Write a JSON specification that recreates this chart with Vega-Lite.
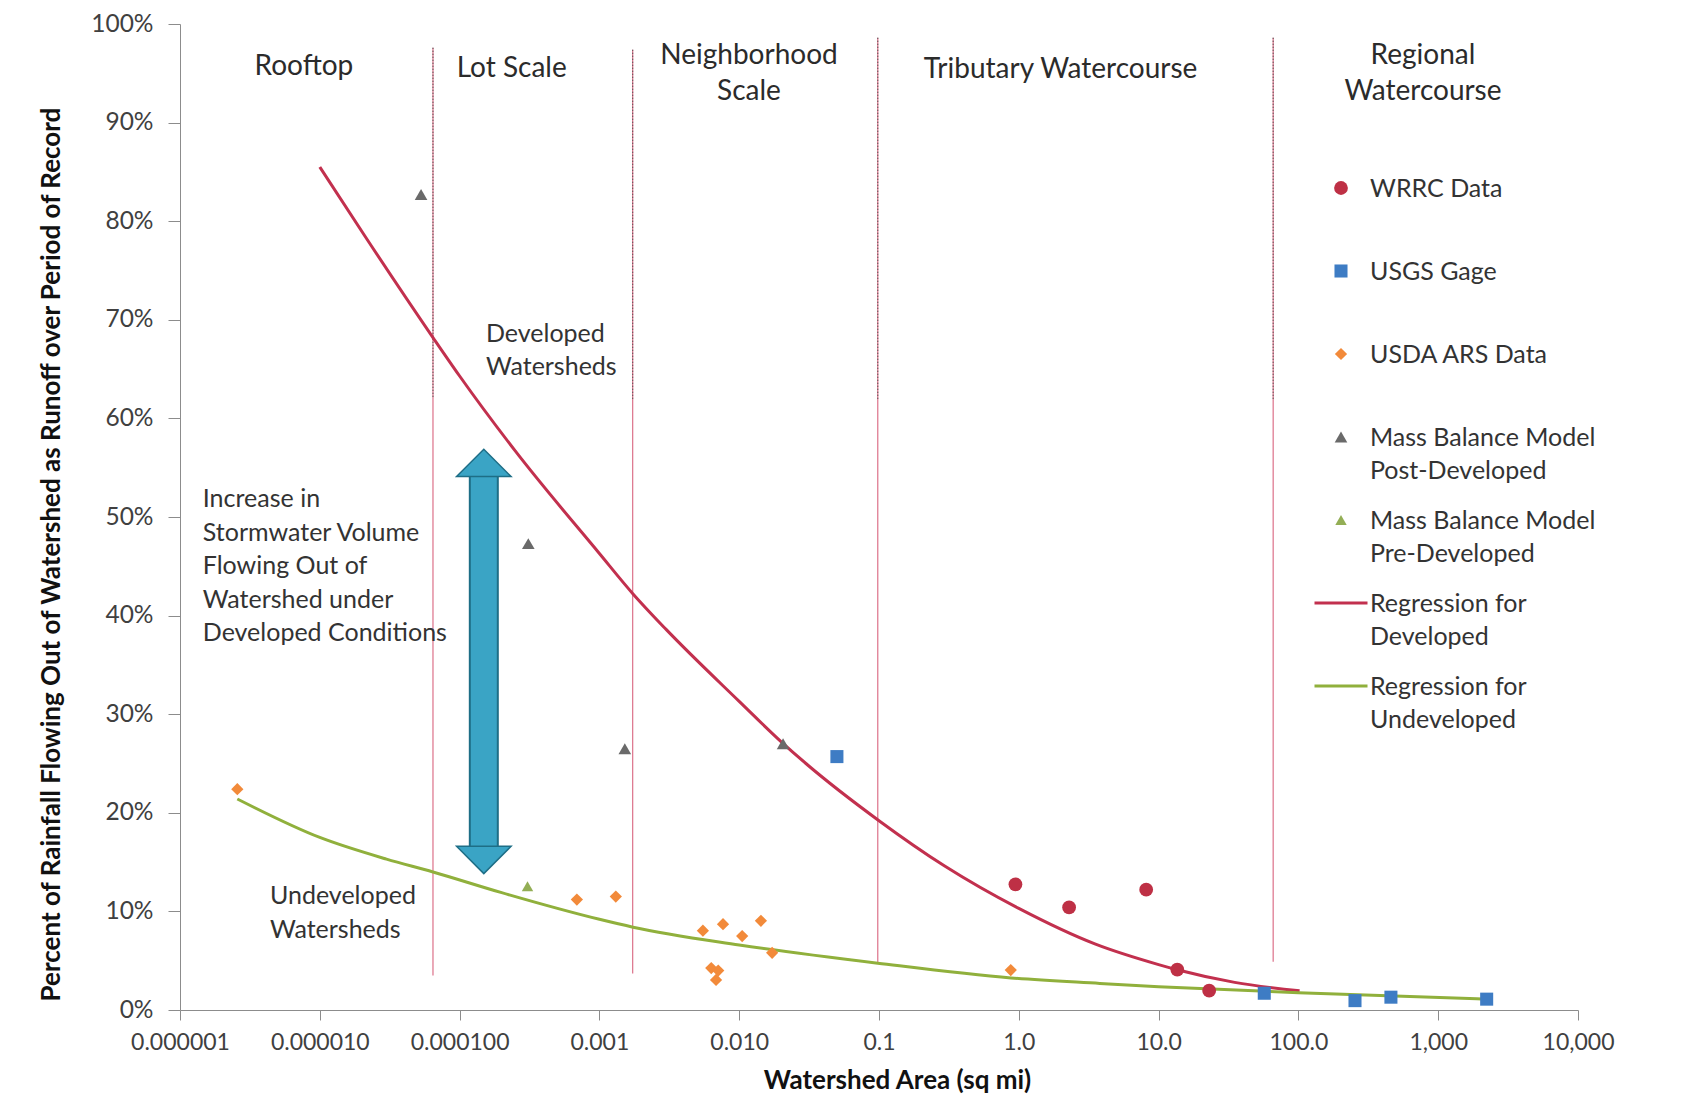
{
  "$schema": "https://vega.github.io/schema/vega-lite/v6.json",
  "width": 1398,
  "height": 986,
  "autosize": {"type": "none"},
  "padding": {"left": 180, "top": 24, "right": 106, "bottom": 86},
  "background": "white",
  "datasets": {
    "points": [
      {"series": "WRRC Data", "area": 0.946, "pct": 12.75},
      {"series": "WRRC Data", "area": 2.29, "pct": 10.4},
      {"series": "WRRC Data", "area": 8.15, "pct": 12.2},
      {"series": "WRRC Data", "area": 13.6, "pct": 4.1},
      {"series": "WRRC Data", "area": 23, "pct": 1.96},
      {"series": "USGS Gage", "area": 0.05, "pct": 25.7},
      {"series": "USGS Gage", "area": 57, "pct": 1.7},
      {"series": "USGS Gage", "area": 254, "pct": 0.95},
      {"series": "USGS Gage", "area": 459, "pct": 1.3},
      {"series": "USGS Gage", "area": 2222, "pct": 1.1},
      {"series": "USDA ARS Data", "area": 0.00000257, "pct": 22.4},
      {"series": "USDA ARS Data", "area": 0.00069, "pct": 11.2},
      {"series": "USDA ARS Data", "area": 0.00131, "pct": 11.5},
      {"series": "USDA ARS Data", "area": 0.0055, "pct": 8.05},
      {"series": "USDA ARS Data", "area": 0.00766, "pct": 8.7},
      {"series": "USDA ARS Data", "area": 0.0105, "pct": 7.5},
      {"series": "USDA ARS Data", "area": 0.0143, "pct": 9.05},
      {"series": "USDA ARS Data", "area": 0.0172, "pct": 5.8},
      {"series": "USDA ARS Data", "area": 0.00631, "pct": 4.25},
      {"series": "USDA ARS Data", "area": 0.00708, "pct": 4.0},
      {"series": "USDA ARS Data", "area": 0.00683, "pct": 3.05},
      {"series": "USDA ARS Data", "area": 0.876, "pct": 4.05},
      {"series": "Mass Balance Model\nPost-Developed", "area": 0.000053, "pct": 82.7},
      {"series": "Mass Balance Model\nPost-Developed", "area": 0.00031, "pct": 47.3},
      {"series": "Mass Balance Model\nPost-Developed", "area": 0.00152, "pct": 26.5},
      {"series": "Mass Balance Model\nPost-Developed", "area": 0.0206, "pct": 27.0},
      {"series": "Mass Balance Model\nPre-Developed", "area": 0.000306, "pct": 12.55}
    ],
    "curves": [
      {"series": "Regression for\nDeveloped", "area": 0.00001, "pct": 85.5},
      {"series": "Regression for\nDeveloped", "area": 0.000021, "pct": 78.5},
      {"series": "Regression for\nDeveloped", "area": 0.0000645, "pct": 68.2},
      {"series": "Regression for\nDeveloped", "area": 0.0001, "pct": 64.3},
      {"series": "Regression for\nDeveloped", "area": 0.00025, "pct": 56.7},
      {"series": "Regression for\nDeveloped", "area": 0.001, "pct": 46.3},
      {"series": "Regression for\nDeveloped", "area": 0.00174, "pct": 42.2},
      {"series": "Regression for\nDeveloped", "area": 0.003, "pct": 38.6},
      {"series": "Regression for\nDeveloped", "area": 0.01, "pct": 31.3},
      {"series": "Regression for\nDeveloped", "area": 0.02, "pct": 27.2},
      {"series": "Regression for\nDeveloped", "area": 0.03, "pct": 25.0},
      {"series": "Regression for\nDeveloped", "area": 0.1, "pct": 19.2},
      {"series": "Regression for\nDeveloped", "area": 0.295, "pct": 14.6},
      {"series": "Regression for\nDeveloped", "area": 1.0, "pct": 10.3},
      {"series": "Regression for\nDeveloped", "area": 3.5, "pct": 6.7},
      {"series": "Regression for\nDeveloped", "area": 10, "pct": 4.6},
      {"series": "Regression for\nDeveloped", "area": 13.8, "pct": 4.05},
      {"series": "Regression for\nDeveloped", "area": 35, "pct": 2.8},
      {"series": "Regression for\nDeveloped", "area": 102, "pct": 1.95},
      {"series": "Regression for\nUndeveloped", "area": 0.00000257, "pct": 21.4},
      {"series": "Regression for\nUndeveloped", "area": 0.00001, "pct": 17.5},
      {"series": "Regression for\nUndeveloped", "area": 0.00003, "pct": 15.3},
      {"series": "Regression for\nUndeveloped", "area": 0.0000645, "pct": 14.0},
      {"series": "Regression for\nUndeveloped", "area": 0.0002, "pct": 11.9},
      {"series": "Regression for\nUndeveloped", "area": 0.001, "pct": 9.2},
      {"series": "Regression for\nUndeveloped", "area": 0.00174, "pct": 8.4},
      {"series": "Regression for\nUndeveloped", "area": 0.01, "pct": 6.6},
      {"series": "Regression for\nUndeveloped", "area": 0.098, "pct": 4.75},
      {"series": "Regression for\nUndeveloped", "area": 0.88, "pct": 3.25},
      {"series": "Regression for\nUndeveloped", "area": 3.8, "pct": 2.7},
      {"series": "Regression for\nUndeveloped", "area": 10, "pct": 2.37},
      {"series": "Regression for\nUndeveloped", "area": 100, "pct": 1.75},
      {"series": "Regression for\nUndeveloped", "area": 2240, "pct": 1.1}
    ],
    "dividers": [
      {"area": 0.0000645, "pct": 97.6, "pct2": 3.5, "upper": 62},
      {"area": 0.00173, "pct": 97.4, "pct2": 3.7, "upper": 62},
      {"area": 0.098, "pct": 98.6, "pct2": 4.8, "upper": 62},
      {"area": 66, "pct": 98.6, "pct2": 4.9, "upper": 62}
    ],
    "arrow": [
      {"part": "shaft", "area": 0.000149, "pct": 54.1, "pct2": 16.6},
      {"part": "up", "area": 0.000149, "pct": 54.1},
      {"part": "down", "area": 0.000149, "pct": 16.6}
    ],
    "headers": [
      {"label": "Rooftop", "area": 0.0000077, "pct": 95.65},
      {"label": "Lot Scale", "area": 0.000236, "pct": 95.45},
      {"label": "Neighborhood\nScale", "area": 0.01175, "pct": 96.8},
      {"label": "Tributary Watercourse", "area": 1.99, "pct": 95.35},
      {"label": "Regional\nWatercourse", "area": 778, "pct": 96.75}
    ],
    "notes": [
      {"label": "Developed\nWatersheds", "area": 0.0001545, "pct": 68.6},
      {"label": "Increase in\nStormwater Volume\nFlowing Out of\nWatershed under\nDeveloped Conditions", "area": 0.000001456, "pct": 51.8},
      {"label": "Undeveloped\nWatersheds", "area": 0.0000044, "pct": 11.55}
    ]
  },
  "encoding": {
    "x": {
      "field": "area",
      "type": "quantitative",
      "scale": {"type": "log", "domain": [0.000001, 10000], "nice": false},
      "axis": {
        "values": [0.000001, 0.00001, 0.0001, 0.001, 0.01, 0.1, 1, 10, 100, 1000, 10000],
        "labelExpr": "datum.value < 0.0005 ? format(datum.value, '.6f') : datum.value < 0.05 ? format(datum.value, '.3f') : datum.value < 500 ? format(datum.value, '.1f') : format(datum.value, ',.0f')",
        "title": "Watershed Area (sq mi)",
        "tickSize": 10,
        "labelPadding": 11,
        "labelFlush": false,
        "labelOverlap": false,
        "titleX": 717,
        "titleY": 70,
        "titleBaseline": "middle",
        "titleAlign": "center"
      }
    },
    "y": {
      "field": "pct",
      "type": "quantitative",
      "scale": {"domain": [0, 100], "nice": false},
      "axis": {
        "values": [0, 10, 20, 30, 40, 50, 60, 70, 80, 90, 100],
        "labelExpr": "datum.value + '%'",
        "labelFontSize": 24.5,
        "title": "Percent of Rainfall Flowing Out of Watershed as Runoff over Period of Record",
        "tickSize": 12,
        "labelPadding": 15,
        "titleX": -129,
        "titleY": 530,
        "titleAngle": -90,
        "titleBaseline": "middle",
        "titleAlign": "center"
      }
    }
  },
  "layer": [
    {
      "data": {"name": "dividers"},
      "mark": {"type": "rule", "color": "#DC7189", "strokeWidth": 1.2},
      "encoding": {"y2": {"field": "pct2"}}
    },
    {
      "data": {"name": "dividers"},
      "mark": {"type": "rule", "color": "#4a4a4a", "strokeWidth": 1.2, "strokeDash": [1, 2]},
      "encoding": {"y2": {"field": "upper"}}
    },
    {
      "data": {"name": "arrow"},
      "transform": [{"filter": "datum.part === 'shaft'"}],
      "mark": {"type": "rule", "color": "#1E6E86", "strokeWidth": 30, "strokeCap": "butt"},
      "encoding": {"y2": {"field": "pct2"}}
    },
    {
      "data": {"name": "arrow"},
      "transform": [{"filter": "datum.part === 'shaft'"}],
      "mark": {"type": "rule", "color": "#3AA4C5", "strokeWidth": 26, "strokeCap": "butt"},
      "encoding": {"y2": {"field": "pct2"}}
    },
    {
      "data": {"name": "arrow"},
      "transform": [{"filter": "datum.part === 'up'"}],
      "mark": {"type": "point", "shape": "M-1,0L0,-1L1,0Z", "size": 2970, "filled": true, "fill": "#3AA4C5", "stroke": "#1E6E86", "strokeWidth": 1.5, "opacity": 1},
      "encoding": {}
    },
    {
      "data": {"name": "arrow"},
      "transform": [{"filter": "datum.part === 'down'"}],
      "mark": {"type": "point", "shape": "M-1,0L0,1L1,0Z", "size": 2970, "filled": true, "fill": "#3AA4C5", "stroke": "#1E6E86", "strokeWidth": 1.5, "opacity": 1},
      "encoding": {}
    },
    {
      "data": {"name": "curves"},
      "transform": [{"filter": "datum.series === 'Regression for\\nDeveloped'"}],
      "mark": {"type": "line", "strokeWidth": 3, "interpolate": "monotone", "color": "#C2304E"},
      "encoding": {}
    },
    {
      "data": {"name": "curves"},
      "transform": [{"filter": "datum.series === 'Regression for\\nUndeveloped'"}],
      "mark": {"type": "line", "strokeWidth": 3, "interpolate": "monotone", "color": "#90B03C"},
      "encoding": {}
    },
    {
      "data": {"name": "points"},
      "mark": {"type": "point", "filled": true, "opacity": 1},
      "encoding": {
        "color": {
          "field": "series",
          "type": "nominal",
          "scale": {
            "domain": ["WRRC Data", "USGS Gage", "USDA ARS Data", "Mass Balance Model\nPost-Developed", "Mass Balance Model\nPre-Developed", "Regression for\nDeveloped", "Regression for\nUndeveloped"],
            "range": ["#BE3045", "#3E7CC4", "#F28A3A", "#6A6A6A", "#93AE55", "#C2304E", "#90B03C"]
          },
          "legend": {
            "title": null, "orient": "none", "legendX": 1133, "legendY": 151,
            "labelExpr": "split(datum.label, '\\n')",
            "labelFont": "Lato", "labelFontSize": 25, "labelColor": "#333333", "labelBaseline": "top",
            "labelOffset": 1, "labelLimit": 400, "gridAlign": "all", "rowPadding": 23, "padding": 0,
            "symbolStrokeWidth": 3, "symbolOpacity": 1,
            "encode": {
              "symbols": {"update": {"y": {"value": 13}, "stroke": [{"test": "indexof(datum.value, 'Regression') === 0", "scale": "color", "field": "value"}, {"value": "transparent"}]}},
              "labels": {"update": {"y": {"value": 13}, "dy": {"value": -11}, "lineHeight": {"value": 33}}}
            }
          }
        },
        "shape": {
          "field": "series",
          "type": "nominal",
          "scale": {
            "domain": ["WRRC Data", "USGS Gage", "USDA ARS Data", "Mass Balance Model\nPost-Developed", "Mass Balance Model\nPre-Developed", "Regression for\nDeveloped", "Regression for\nUndeveloped"],
            "range": ["circle", "square", "diamond", "triangle-up", "triangle-up", "stroke", "stroke"]
          },
          "legend": {
            "title": null, "orient": "none", "legendX": 1133, "legendY": 151,
            "labelExpr": "split(datum.label, '\\n')",
            "labelFont": "Lato", "labelFontSize": 25, "labelColor": "#333333", "labelBaseline": "top",
            "labelOffset": 1, "labelLimit": 400, "gridAlign": "all", "rowPadding": 23, "padding": 0,
            "symbolStrokeWidth": 3, "symbolOpacity": 1,
            "encode": {
              "symbols": {"update": {"y": {"value": 13}, "stroke": [{"test": "indexof(datum.value, 'Regression') === 0", "scale": "color", "field": "value"}, {"value": "transparent"}]}},
              "labels": {"update": {"y": {"value": 13}, "dy": {"value": -11}, "lineHeight": {"value": 33}}}
            }
          }
        },
        "size": {
          "field": "series",
          "type": "nominal",
          "scale": {
            "type": "ordinal",
            "domain": ["WRRC Data", "USGS Gage", "USDA ARS Data", "Mass Balance Model\nPost-Developed", "Mass Balance Model\nPre-Developed", "Regression for\nDeveloped", "Regression for\nUndeveloped"],
            "range": [190, 170, 150, 160, 130, 2809, 2809]
          },
          "legend": {
            "title": null, "orient": "none", "legendX": 1133, "legendY": 151,
            "labelExpr": "split(datum.label, '\\n')",
            "labelFont": "Lato", "labelFontSize": 25, "labelColor": "#333333", "labelBaseline": "top",
            "labelOffset": 1, "labelLimit": 400, "gridAlign": "all", "rowPadding": 23, "padding": 0,
            "symbolStrokeWidth": 3, "symbolOpacity": 1,
            "encode": {
              "symbols": {"update": {"y": {"value": 13}, "stroke": [{"test": "indexof(datum.value, 'Regression') === 0", "scale": "color", "field": "value"}, {"value": "transparent"}]}},
              "labels": {"update": {"y": {"value": 13}, "dy": {"value": -11}, "lineHeight": {"value": 33}}}
            }
          }
        }
      }
    },
    {
      "data": {"name": "headers"},
      "mark": {"type": "text", "font": "Lato", "fontSize": 28, "color": "#2b2b2b", "align": "center", "baseline": "middle", "lineBreak": "\n", "lineHeight": 36},
      "encoding": {"text": {"field": "label"}}
    },
    {
      "data": {"name": "notes"},
      "mark": {"type": "text", "font": "Lato", "fontSize": 25, "color": "#333333", "align": "left", "baseline": "middle", "lineBreak": "\n", "lineHeight": 33.5},
      "encoding": {"text": {"field": "label"}}
    }
  ],
  "config": {
    "font": "Lato",
    "view": {"stroke": null},
    "axis": {
      "labelFont": "Lato",
      "labelFontSize": 23,
      "labelColor": "#404040",
      "domainColor": "#8c8c8c",
      "tickColor": "#8c8c8c",
      "grid": false,
      "titleFont": "Lato",
      "titleFontWeight": "bold",
      "titleColor": "#111111"
    },
    "axisX": {"titleFontSize": 26},
    "axisY": {"titleFontSize": 26}
  }
}
